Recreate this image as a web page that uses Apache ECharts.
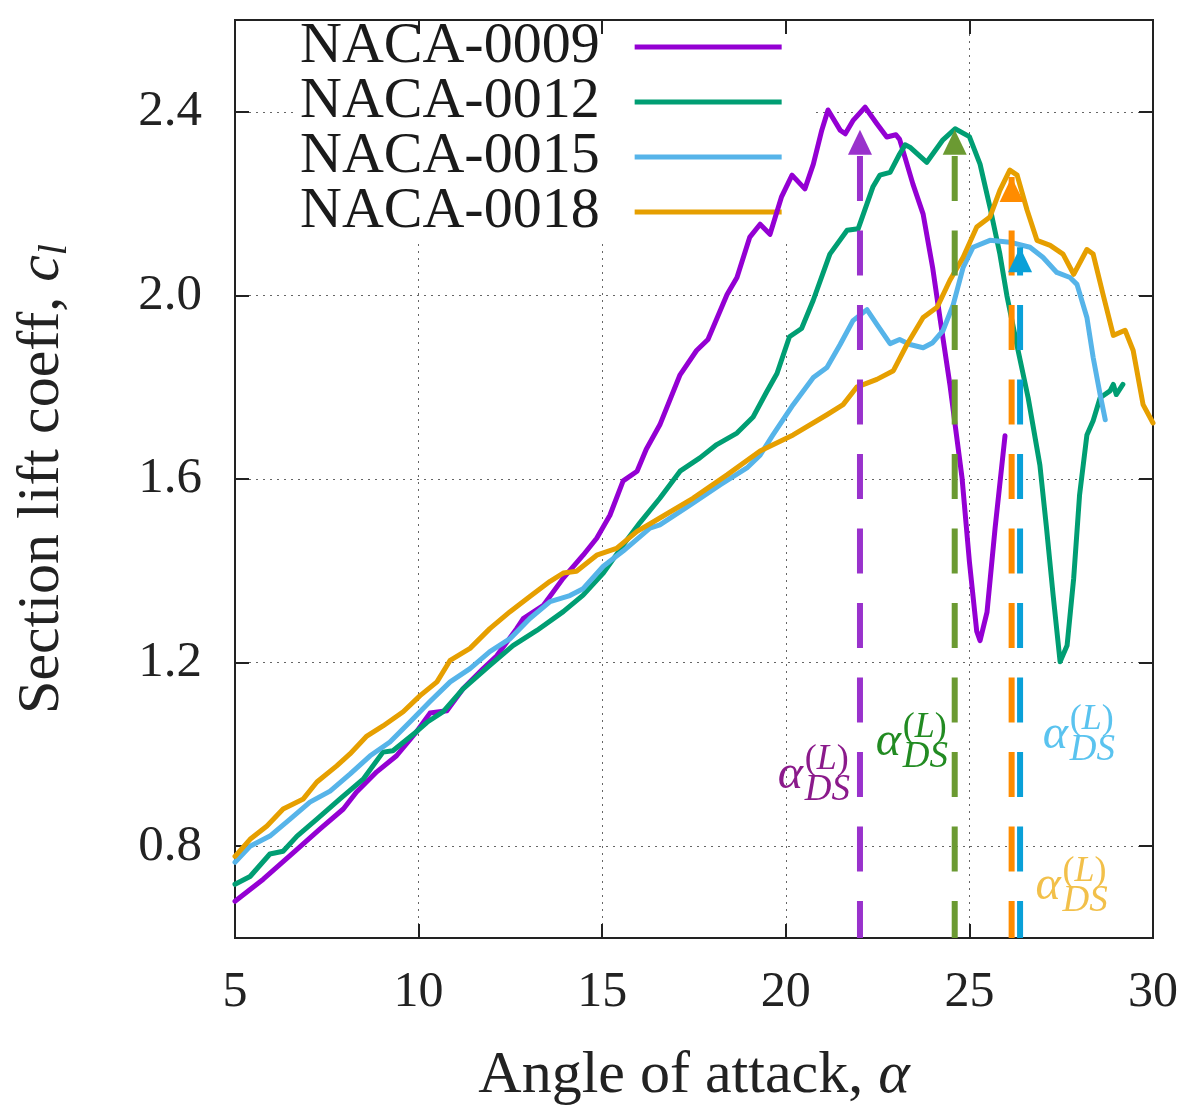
<!DOCTYPE html>
<html>
<head>
<meta charset="utf-8">
<title>Section lift coefficient</title>
<script src="https://cdn.jsdelivr.net/npm/echarts@6/dist/echarts.min.js"></script>
<style>
  html, body { margin: 0; padding: 0; background: #fff; }
  #chart { width: 1193px; height: 1119px; }
</style>
</head>
<body>
<div id="chart"></div>
<script>
// axis ticks
const xTicks = [5, 10, 15, 20, 25, 30];
const yTicks = [0.8, 1.2, 1.6, 2.0, 2.4];

// lift curves, [alpha, cl]
const naca0009 = [[5.0,0.68],[5.77,0.728],[6.69,0.793],[7.31,0.837],[7.95,0.881],[8.31,0.918],[8.86,0.962],[9.4,0.997],[9.95,1.05],[10.31,1.09],[10.77,1.095],[11.21,1.143],[11.76,1.187],[12.13,1.215],[12.67,1.274],[12.85,1.296],[13.4,1.325],[13.94,1.384],[14.48,1.434],[14.85,1.471],[15.21,1.521],[15.57,1.596],[15.95,1.617],[16.2,1.665],[16.57,1.718],[17.12,1.827],[17.57,1.88],[17.88,1.904],[18.4,2.002],[18.67,2.039],[19.02,2.127],[19.3,2.155],[19.57,2.133],[19.88,2.214],[20.17,2.262],[20.52,2.232],[20.75,2.286],[20.98,2.36],[21.15,2.404],[21.48,2.36],[21.62,2.352],[21.84,2.382],[22.16,2.41],[22.48,2.374],[22.75,2.345],[23.0,2.35],[23.1,2.34],[23.46,2.243],[23.74,2.177],[24.0,2.06],[24.2,1.95],[24.47,1.805],[24.8,1.602],[25.0,1.42],[25.2,1.268],[25.29,1.248],[25.48,1.31],[25.7,1.493],[25.97,1.694]];
const naca0012 = [[5.0,0.717],[5.41,0.734],[5.95,0.783],[6.31,0.789],[6.69,0.822],[7.23,0.859],[7.86,0.903],[8.49,0.946],[9.03,1.005],[9.3,1.008],[9.95,1.05],[10.23,1.07],[10.67,1.093],[11.21,1.143],[11.94,1.194],[12.57,1.237],[13.22,1.27],[13.94,1.311],[14.48,1.347],[15.03,1.395],[15.57,1.456],[16.03,1.505],[16.57,1.558],[17.12,1.617],[17.66,1.646],[18.12,1.675],[18.67,1.70],[19.11,1.735],[19.48,1.79],[19.76,1.83],[20.1,1.91],[20.43,1.928],[20.75,1.99],[21.2,2.09],[21.67,2.142],[21.97,2.145],[22.37,2.236],[22.56,2.262],[22.84,2.268],[23.1,2.308],[23.25,2.328],[23.38,2.323],[23.84,2.29],[24.28,2.339],[24.61,2.363],[25.0,2.346],[25.29,2.286],[25.56,2.192],[25.83,2.09],[26.02,2.0],[26.3,1.89],[26.6,1.777],[26.92,1.63],[27.1,1.493],[27.28,1.347],[27.47,1.202],[27.66,1.237],[27.84,1.384],[28.0,1.565],[28.2,1.696],[28.37,1.727],[28.56,1.777],[28.83,1.792],[28.92,1.806],[29.0,1.784],[29.18,1.806]];
const naca0015 = [[5.0,0.765],[5.41,0.80],[5.95,0.822],[6.5,0.859],[7.04,0.896],[7.59,0.92],[8.13,0.957],[8.68,0.997],[9.22,1.027],[9.77,1.071],[10.31,1.115],[10.86,1.158],[11.4,1.187],[11.94,1.224],[12.49,1.252],[13.03,1.296],[13.58,1.333],[14.12,1.346],[14.48,1.361],[15.03,1.41],[15.57,1.443],[16.3,1.493],[16.57,1.50],[17.39,1.543],[18.21,1.587],[18.94,1.624],[19.3,1.652],[19.65,1.696],[20.2,1.762],[20.75,1.821],[21.12,1.843],[21.48,1.893],[21.83,1.945],[22.21,1.969],[22.48,1.937],[22.84,1.895],[23.1,1.904],[23.38,1.893],[23.74,1.886],[24.0,1.897],[24.28,1.923],[24.56,1.98],[24.83,2.061],[25.1,2.105],[25.56,2.12],[26.1,2.116],[26.65,2.105],[27.0,2.083],[27.38,2.05],[27.74,2.039],[27.93,2.024],[28.2,1.952],[28.37,1.865],[28.56,1.784],[28.7,1.729]];
const naca0018 = [[5.0,0.778],[5.41,0.815],[5.87,0.844],[6.31,0.881],[6.86,0.903],[7.23,0.94],[7.77,0.975],[8.13,1.001],[8.59,1.04],[9.03,1.062],[9.58,1.093],[10.04,1.128],[10.5,1.158],[10.86,1.205],[11.4,1.231],[11.94,1.274],[12.49,1.311],[13.03,1.344],[13.58,1.377],[13.94,1.395],[14.3,1.399],[14.85,1.434],[15.39,1.449],[15.95,1.486],[16.57,1.515],[17.47,1.558],[18.4,1.609],[19.3,1.661],[20.2,1.696],[21.12,1.74],[21.56,1.762],[21.93,1.80],[22.48,1.817],[22.93,1.836],[23.3,1.893],[23.74,1.952],[24.12,1.974],[24.47,2.033],[24.83,2.083],[25.2,2.149],[25.56,2.171],[25.83,2.229],[26.1,2.273],[26.3,2.262],[26.57,2.186],[26.84,2.12],[27.2,2.109],[27.55,2.09],[27.84,2.046],[28.2,2.10],[28.37,2.09],[28.64,2.002],[28.92,1.913],[29.24,1.924],[29.46,1.88],[29.73,1.762],[30.0,1.722]];

const names = ['NACA-0009', 'NACA-0012', 'NACA-0015', 'NACA-0018'];
const curves = [naca0009, naca0012, naca0015, naca0018];

// dynamic stall angles (dashed arrows)
const dsAlpha = [22.02, 24.6, 26.15, 26.38];
const dsTop = [2.361, 2.361, 2.258, 2.105];

// styling
const FONT = '"Liberation Serif", "Times New Roman", serif';
const curveColors = ['#9400d3', '#009e73', '#56b4e9', '#e69f00'];
const dsColors = ['#9932cc', '#6b9a32', '#ff8c00', '#0aa0d8'];
const dsLabelColors = ['#8b1a8b', '#228b22', '#5ac3ef', '#f2c04a'];
// where each alpha_DS label sits (data coords of the alpha glyph's left/middle)
const dsLabelAt = [[19.78, 0.951], [22.45, 1.021], [27.0, 1.038], [26.8, 0.708]];

const AX = '#222';

const chart = echarts.init(document.getElementById('chart'));

const curveSeries = curves.map((d, i) => ({
  name: names[i],
  type: 'line',
  data: d,
  showSymbol: false,
  symbol: 'none',
  z: 3,
  color: curveColors[i],
  lineStyle: { color: curveColors[i], width: 5, join: 'round', cap: 'round' },
  silent: true
}));

const dsSeries = dsAlpha.map((a, i) => ({
  name: 'ds' + i,
  type: 'line',
  z: 4,
  silent: true,
  showSymbol: true,
  data: [
    { value: [a, 0.6], symbol: 'none' },
    { value: [a, dsTop[i]], symbol: 'triangle', symbolSize: [24, 25], symbolOffset: [0, '50%'] }
  ],
  lineStyle: { color: dsColors[i], width: 6, type: [45, 29.5], dashOffset: 8 },
  itemStyle: { color: dsColors[i], borderWidth: 0 }
}));

const tickStyle = { inside: true, length: 14, lineStyle: { color: AX, width: 2 } };
const lineStyleAx = { show: true, lineStyle: { color: AX, width: 2 } };
const gridLine = { show: true, lineStyle: { color: '#666', width: 1, type: [2, 5] } };

chart.setOption({
  animation: false,
  backgroundColor: '#fff',
  grid: { left: 235, right: 40, top: 20, bottom: 181, show: true, borderColor: AX, borderWidth: 2 },
  legend: {
    data: names,
    z: 1,
    orient: 'vertical',
    left: 296,
    top: 17,
    align: 'right',
    icon: 'rect',
    itemWidth: 147,
    itemHeight: 5,
    itemGap: -3,
    selectedMode: false,
    backgroundColor: '#fff',
    padding: [1, 30, 2, 4],
    textStyle: { fontFamily: FONT, fontSize: 58, color: '#1a1a1a', padding: [0, 30, 0, 0] }
  },
  xAxis: [{
    type: 'value', min: 5, max: 30, interval: 5,
    axisLine: lineStyleAx, axisTick: tickStyle, splitLine: gridLine,
    axisLabel: { fontFamily: FONT, fontSize: 50, color: AX, margin: 30 },
    name: 'Angle of attack, {i|α}',
    nameLocation: 'middle', nameGap: 108,
    nameTextStyle: { fontFamily: FONT, fontSize: 60, color: AX, rich: { i: { fontFamily: FONT, fontStyle: 'italic', fontSize: 60, color: AX } } }
  }, {
    type: 'value', min: 5, max: 30, interval: 5, position: 'top', z: 2,
    axisLine: lineStyleAx, axisTick: tickStyle, splitLine: { show: false }, axisLabel: { show: false }
  }],
  yAxis: [{
    type: 'value', min: 0.6, max: 2.6,
    axisLine: lineStyleAx,
    axisTick: Object.assign({ customValues: yTicks }, tickStyle),
    splitLine: gridLine,
    axisLabel: { customValues: yTicks, fontFamily: FONT, fontSize: 51, color: AX, margin: 33, formatter: v => v.toFixed(1) },
    name: 'Section lift coeff, {i|c}{s|l}',
    nameLocation: 'middle', nameGap: 160, nameRotate: 90,
    nameTextStyle: {
      fontFamily: FONT, fontSize: 60, color: AX,
      rich: {
        i: { fontFamily: FONT, fontStyle: 'italic', fontSize: 60, color: AX },
        s: { fontFamily: FONT, fontStyle: 'italic', fontSize: 40, color: AX, padding: [26, 0, 0, 0] }
      }
    }
  }, {
    type: 'value', min: 0.6, max: 2.6, position: 'right',
    axisLine: lineStyleAx,
    axisTick: Object.assign({ customValues: yTicks }, tickStyle),
    splitLine: { show: false },
    axisLabel: { show: false, customValues: yTicks }
  }],
  series: curveSeries.concat(dsSeries)
});

// alpha_DS^(L) labels placed through the grid's coordinate system
const labelGraphics = dsLabelAt.map((p, i) => {
  const pt = chart.convertToPixel({ gridIndex: 0 }, p);
  const c = dsLabelColors[i];
  return {
    type: 'group', x: pt[0], y: pt[1], z: 10, silent: true,
    children: [
      { type: 'text', style: { text: 'α', x: 0, y: -2, fill: c, font: 'italic 48px ' + FONT, align: 'left', verticalAlign: 'middle' } },
      { type: 'text', style: { text: '({i|L})', x: 27, y: -17, fill: c, font: '36px ' + FONT, align: 'left', verticalAlign: 'middle',
          rich: { i: { fontFamily: FONT, fontStyle: 'italic', fontSize: 36, fill: c } } } },
      { type: 'text', style: { text: 'DS', x: 27, y: 13, fill: c, font: 'italic 37px ' + FONT, align: 'left', verticalAlign: 'middle' } }
    ]
  };
});
chart.setOption({ graphic: labelGraphics });
</script>
</body>
</html>
